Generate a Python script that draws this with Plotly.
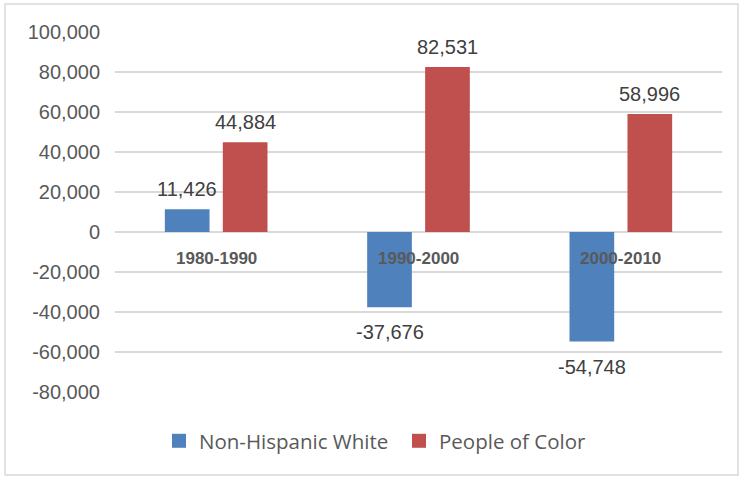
import plotly.graph_objects as go

# Population change by decade
periods = ["1980-1990", "1990-2000", "2000-2010"]
nh_white = [11426, -37676, -54748]
people_of_color = [44884, 82531, 58996]
series_names = ["Non-Hispanic White", "People of Color"]
tick_vals = [-80000, -60000, -40000, -20000, 0, 20000, 40000, 60000, 80000, 100000]
tick_text = [f"{v:,}" for v in tick_vals]

BLUE = "#4f81bd"
RED = "#c0504d"
GRID = "#d9d9d9"
AXIS_TEXT = "#595959"
LABEL_TEXT = "#404040"

fig = go.Figure()
for name, values, color in ((series_names[0], nh_white, BLUE),
                            (series_names[1], people_of_color, RED)):
    fig.add_trace(go.Bar(x=periods, y=values, name=name, showlegend=False,
                         marker=dict(color=color, line=dict(width=0))))
    # square legend swatch
    fig.add_trace(go.Scatter(x=[None], y=[None], mode="markers", name=name,
                             marker=dict(symbol="square", size=14, color=color)))

# value labels just outside the end of each bar
annotations = []
for values, shift in ((nh_white, -29), (people_of_color, 29)):
    for p, v in zip(periods, values):
        annotations.append(dict(
            x=p, y=v, xref="x", yref="y", xshift=shift,
            yshift=7 if v >= 0 else -12,
            yanchor="bottom" if v >= 0 else "top",
            text=f"{v:,}", showarrow=False,
            font=dict(family="Liberation Sans, Arial", size=20, color=LABEL_TEXT),
        ))

# category labels sit on the zero line
for p in periods:
    annotations.append(dict(
        x=p, y=0, xref="x", yref="y", yshift=-26, yanchor="middle",
        text=f"<b>{p}</b>", showarrow=False,
        font=dict(family="Liberation Sans, Arial", size=17, color=AXIS_TEXT),
    ))

fig.update_layout(
    width=739, height=477,
    margin=dict(l=115, r=17, t=32, b=85),
    paper_bgcolor="white", plot_bgcolor="white",
    barmode="group", bargap=0.427, bargroupgap=0.229,
    showlegend=True,
    legend=dict(orientation="h", x=0.0725, xanchor="left", y=-0.136, yanchor="middle",
                font=dict(family="Open Sans, Noto Sans", size=20.5, color=AXIS_TEXT),
                itemwidth=30, entrywidth=195, traceorder="normal"),
    annotations=annotations,
    shapes=[dict(type="rect", xref="paper", yref="paper",
                 x0=-0.1812, x1=1.0264, y0=-0.2306, y1=1.0778,
                 line=dict(color=GRID, width=1.5), layer="below")],
)
fig.update_xaxes(showticklabels=False, showgrid=False, zeroline=False,
                 showline=False, ticks="")
fig.update_yaxes(range=[-80000, 100000], tickvals=tick_vals, ticktext=tick_text,
                 showgrid=True, gridcolor=GRID, gridwidth=1.5,
                 zeroline=True, zerolinecolor=GRID, zerolinewidth=1.5,
                 showline=False, ticks="", ticklabelstandoff=14,
                 tickfont=dict(family="Liberation Sans, Arial", size=20, color=AXIS_TEXT))

fig.write_html("out.html")
